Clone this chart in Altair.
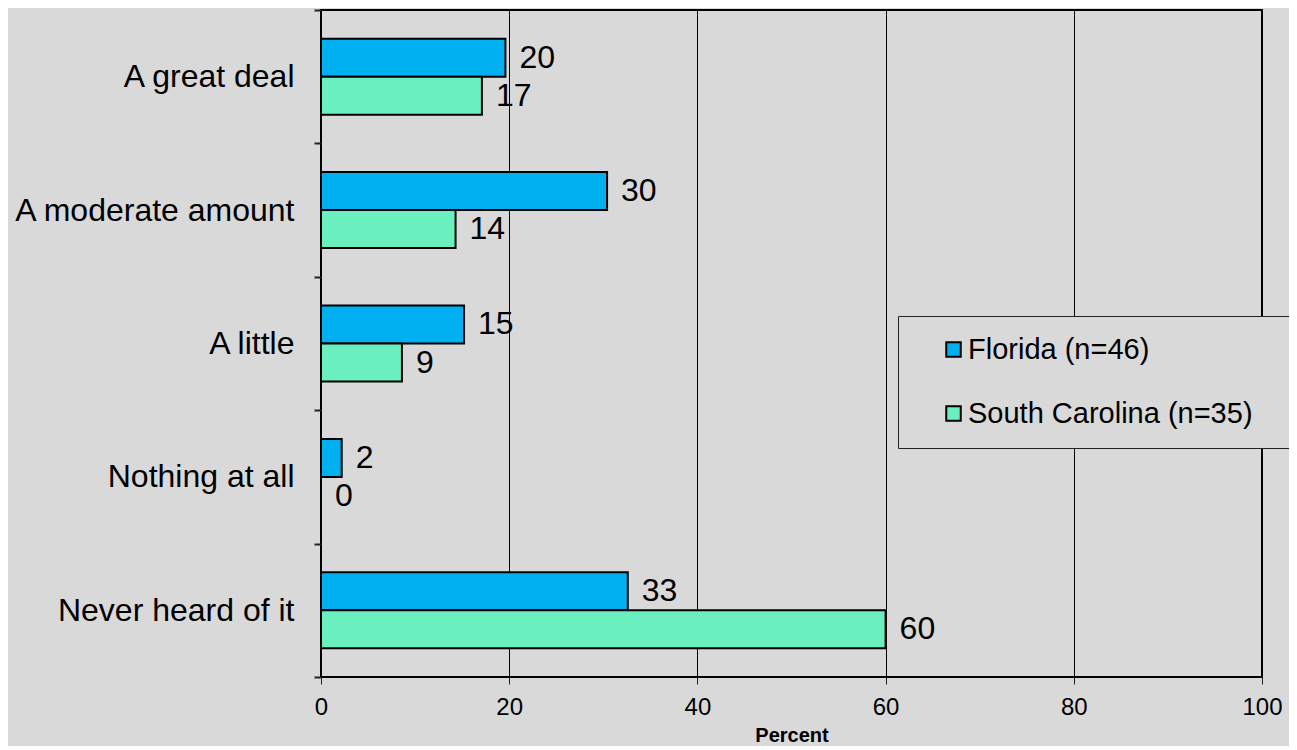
import altair as alt
import pandas as pd

categories = ["A great deal", "A moderate amount", "A little", "Nothing at all", "Never heard of it"]
series = ["Florida (n=46)", "South Carolina (n=35)"]
florida = [19.6, 30.4, 15.2, 2.2, 32.6]
south_carolina = [17.1, 14.3, 8.6, 0.0, 60.0]
florida_labels = ["20", "30", "15", "2", "33"]
south_carolina_labels = ["17", "14", "9", "0", "60"]
x_ticks = [0, 20, 40, 60, 80, 100]
colors = ["#00B0F0", "#6AF0BF"]

rows = []
for i, c in enumerate(categories):
    rows.append({"cat": c, "series": series[0], "value": florida[i], "label": florida_labels[i]})
    rows.append({"cat": c, "series": series[1], "value": south_carolina[i], "label": south_carolina_labels[i]})
df = pd.DataFrame(rows)

FONT = "Liberation Sans"
BLANK_PAD = "\u2800" * 2

y_enc = alt.Y(
    "cat:N",
    sort=categories,
    title=None,
    scale=alt.Scale(paddingInner=0, paddingOuter=0),
    axis=alt.Axis(
        tickBand="extent",
        domain=False,
        ticks=True,
        tickSize=7,
        tickColor="#222222",
        tickWidth=2,
        labelFontSize=32,
        labelFont=FONT,
        labelColor="black",
        labelPadding=20,
        labelLimit=400,
        grid=False,
    ),
)
y_off = alt.YOffset("series:N", sort=series, scale=alt.Scale(paddingInner=0, paddingOuter=0.755))
x_enc = alt.X(
    "value:Q",
    scale=alt.Scale(domain=[0, 100], nice=False),
    axis=alt.Axis(
        values=x_ticks,
        title="Percent",
        titleFont=FONT,
        titleFontSize=20,
        titleFontWeight="bold",
        titleColor="black",
        titlePadding=6,
        labelFont=FONT,
        labelFontSize=24,
        labelColor="black",
        labelPadding=11,
        labelFlush=False,
        tickSize=7,
        tickColor="#222222",
        domain=False,
        grid=True,
        gridColor="black",
        gridWidth=1,
        gridOpacity=1,
    ),
)

bars = alt.Chart(df).mark_bar(stroke="black", strokeWidth=2, opacity=1).encode(
    x=x_enc,
    y=y_enc,
    yOffset=y_off,
    color=alt.Color(
        "series:N",
        sort=series,
        scale=alt.Scale(domain=series, range=colors),
        legend=alt.Legend(
            title=None,
            orient="none",
            legendX=577,
            legendY=306,
            fillColor="#D9D9D9",
            strokeColor="#222222",
            padding=19,
            rowPadding=34,
            symbolType="square",
            symbolSize=210,
            symbolStrokeColor="black",
            symbolStrokeWidth=2,
            symbolOffset=22,
            symbolOpacity=1,
            labelFont=FONT,
            labelFontSize=29,
            labelColor="black",
            labelOffset=0,
            labelLimit=800,
            labelExpr="datum.label + '" + BLANK_PAD + "'",
        ),
    ),
)

labels = alt.Chart(df).mark_text(
    align="left", baseline="middle", dx=14, font=FONT, fontSize=32, color="black"
).encode(
    x=alt.X("value:Q"),
    y=alt.Y("cat:N", sort=categories),
    yOffset=alt.YOffset("series:N", sort=series, scale=alt.Scale(paddingInner=0, paddingOuter=0.755)),
    text="label:N",
)

chart = (
    alt.layer(bars, labels)
    .properties(
        width=941,
        height=667,
        autosize=alt.AutoSizeParams(type="none"),
        padding={"left": 313, "top": 2, "right": 27, "bottom": 69},
        background="#D9D9D9",
    )
    .configure_view(stroke="black", strokeWidth=2, fill="#D9D9D9")
)

chart.save("out.html", embed_options={"renderer": "svg", "actions": False})
